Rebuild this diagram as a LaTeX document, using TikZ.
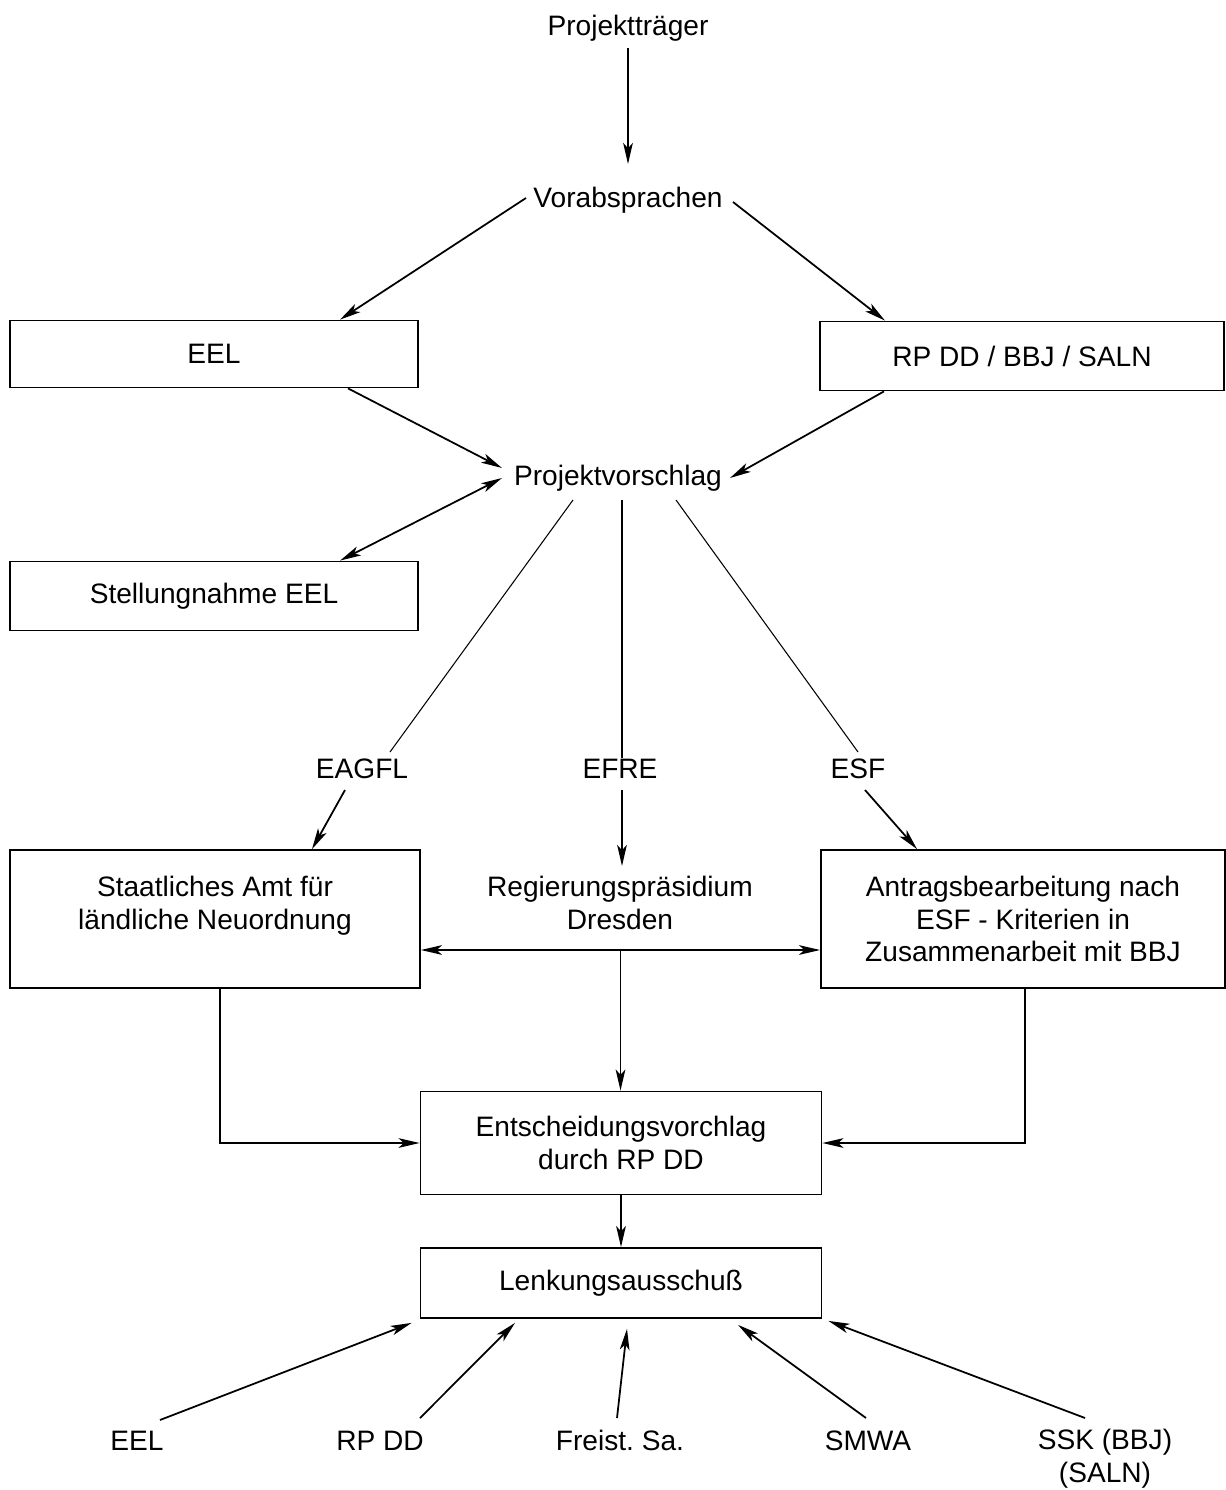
\documentclass[tikz,border=0pt]{standalone}
\usepackage{fontspec}
\setmainfont{Liberation Sans}
\usetikzlibrary{arrows.meta,calc}
\frenchspacing
\begin{document}
\begin{tikzpicture}[x=0.02cm,y=-0.02cm,
  every node/.style={font=\fontsize{16}{18.7}\selectfont},
  lbl/.style={inner sep=0pt,text height=11.5pt,text depth=0pt},
  box/.style={draw,line width=1pt,align=center,inner sep=0pt},
  arr/.style={line width=1pt,-{Stealth[length=12pt,width=5.5pt,inset=3pt]}},
  darr/.style={line width=1pt,{Stealth[length=12pt,width=5.5pt,inset=3pt]}-{Stealth[length=12pt,width=5.5pt,inset=3pt]}},
  thin line/.style={line width=0.6pt}]
\useasboundingbox (0,0) rectangle (1226,1490);
% nodes
\node[lbl] (pt) at (628,25) {Projektträger};
\node[lbl] (vor) at (628,197) {Vorabsprachen};
\node[box,minimum width=408*0.02cm,minimum height=67*0.02cm] (eel) at (214,354) {EEL};
\node[box,minimum width=404*0.02cm,minimum height=69*0.02cm] (rp) at (1022,356) {RP DD / BBJ / SALN};
\node[lbl] (pv) at (618,475) {Projektvorschlag};
\node[box,minimum width=408*0.02cm,minimum height=69*0.02cm] (stel) at (214,596) {Stellungnahme EEL};
\node[lbl] (eagfl) at (362,768) {EAGFL};
\node[lbl] (efre) at (620,768) {EFRE};
\node[lbl] (esf) at (858,768) {ESF};
\node[box,minimum width=410*0.02cm,minimum height=138*0.02cm] (sa) at (215,919) {Staatliches Amt für\\ländliche Neuordnung\\\mbox{}};
\node[align=center,inner sep=0pt] (rpd) at (620,903) {Regierungspräsidium\\Dresden};
\node[box,minimum width=404*0.02cm,minimum height=138*0.02cm] (ant) at (1023,919) {Antragsbearbeitung nach\\ESF - Kriterien in\\Zusammenarbeit mit BBJ};
\node[box,minimum width=401*0.02cm,minimum height=103*0.02cm] (ent) at (621,1143) {Entscheidungsvorchlag\\durch RP DD};
\node[box,minimum width=401*0.02cm,minimum height=70*0.02cm] (lenk) at (621,1283) {Lenkungsausschuß};
\node[lbl] (b1) at (137,1440) {EEL};
\node[lbl] (b2) at (380,1440) {RP DD};
\node[lbl] (b3) at (620,1440) {Freist. Sa.};
\node[lbl] (b4) at (868,1440) {SMWA};
\node[align=center,inner sep=0pt,anchor=north] (b5) at (1105,1429) {SSK (BBJ)\\(SALN)};
% connectors
\draw[arr] ($(pt)+(0,23)$) -- ($(vor)+(0,-33)$);
\draw[arr] ($(vor)+(-102,1)$) -- ($(eel.north)+(126,0)$);
\draw[arr] ($(vor)+(105,5)$) -- ($(rp.north)+(-137,0)$);
\draw[arr] ($(eel.south)+(134,0)$) -- ($(pv)+(-116,-7)$);
\draw[arr] ($(rp.south)+(-138,0)$) -- ($(pv)+(112,3)$);
\draw[darr] ($(pv)+(-116,3)$) -- ($(stel.north)+(126,0)$);
\draw[thin line] ($(pv)+(-45,25)$) -- ($(eagfl)+(28,-16)$);
\draw[thin line] ($(pv)+(4,25)$) -- ($(efre)+(2,-10)$);
\draw[thin line] ($(pv)+(58,25)$) -- ($(esf)+(0,-16)$);
\draw[arr] ($(eagfl)+(-17,22)$) -- ($(sa.north)+(97,0)$);
\draw[arr] ($(efre)+(2,22)$) -- ($(rpd)+(2,-37)$);
\draw[arr] ($(esf)+(7,22)$) -- ($(ant.north)+(-106,0)$);
\draw[darr] ($(sa.east)+(0,31)$) -- ($(ant.west)+(0,31)$);
\coordinate (mid) at ($($(sa.east)!0.5!(ant.west)$)+(0,31)$);
\draw[arr] (mid) -- (mid |- ent.north);
\draw[arr] ($(sa.south)+(5,0)$) |- (ent.west);
\draw[arr] ($(ant.south)+(2,0)$) |- (ent.east);
\draw[arr] (ent.south) -- (lenk.north);
\draw[arr] ($(b1)+(23,-20)$) -- ($(lenk.south west)+(-8,4)$);
\draw[arr] ($(b2)+(40,-22)$) -- ($(lenk.south)+(-106,4)$);
\draw[arr] ($(b3)+(-3,-22)$) -- ($(lenk.south)+(6,10)$);
\draw[arr] ($(b4)+(-2,-22)$) -- ($(lenk.south)+(117,6)$);
\draw[arr] ($(b5.north)+(-20,-11)$) -- ($(lenk.south east)+(6,2)$);
\end{tikzpicture}
\end{document}
